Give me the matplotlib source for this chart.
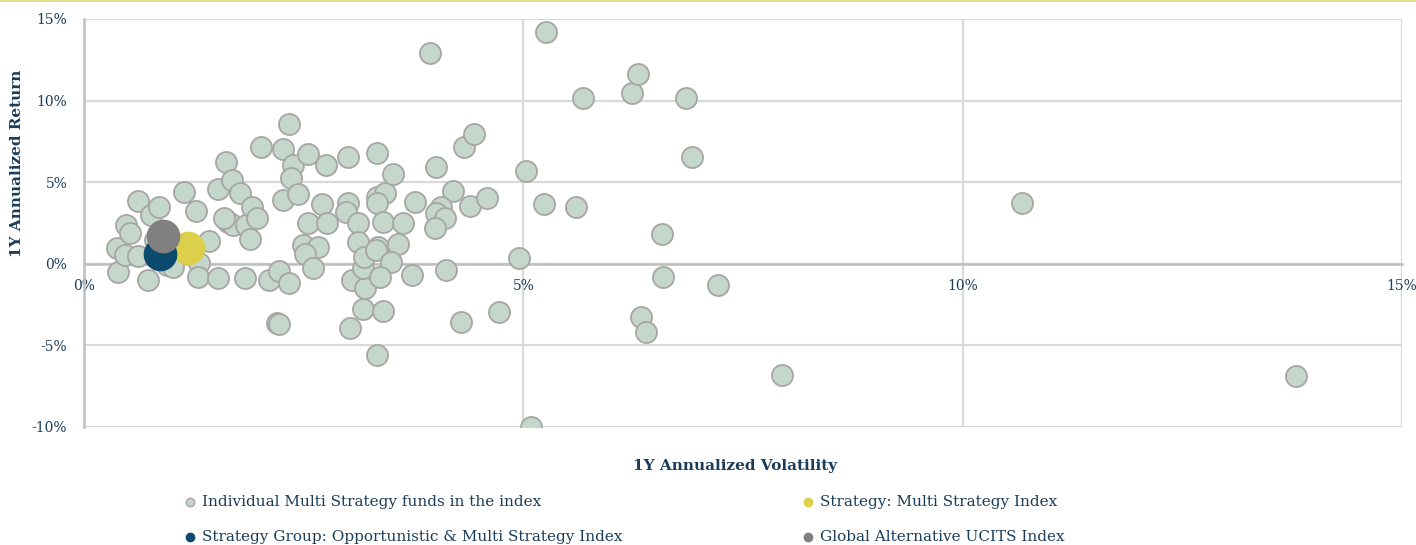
import matplotlib.pyplot as plt
from matplotlib.lines import Line2D
from matplotlib.ticker import FuncFormatter

# 1Y volatility (%) and 1Y return (%) of the individual funds
fund_vol = [0.37, 0.39, 0.47, 0.48, 0.52, 0.62, 0.73, 0.76, 0.85, 0.62,
            0.95, 1.01, 0.81, 0.93, 1.14, 1.28, 1.42, 1.31, 1.30, 1.52,
            1.52, 1.62, 1.68, 1.78, 1.64, 1.70, 1.59, 1.84, 1.91, 1.97,
            1.89, 1.83, 2.01, 2.11, 2.22, 2.33, 2.20, 2.22, 2.26, 2.33,
            2.38, 2.36, 2.26, 2.44, 2.55, 2.75, 2.49, 2.66, 2.52, 2.61,
            2.55, 2.71, 2.77, 3.00, 3.00, 2.98, 3.12, 3.12, 3.05, 3.20,
            3.18, 3.19, 3.33, 3.33, 3.43, 3.34, 3.52, 3.40, 3.63, 3.35,
            3.32, 3.57, 3.49, 3.37, 3.17, 3.40, 3.03, 3.33, 3.73, 3.77,
            4.01, 3.94, 4.20, 4.06, 4.01, 4.11, 4.00, 4.12, 4.32, 4.44,
            4.39, 4.59, 4.29, 4.72, 4.95, 5.03, 5.23, 5.26, 5.09, 5.60,
            5.68, 6.24, 6.30, 6.85, 6.92, 6.58, 6.59, 6.34, 6.40, 7.21,
            7.94, 10.68, 13.79]
fund_ret = [0.98, -0.49, 0.55, 2.39, 1.90, 3.85, -0.98, 3.00, 3.49, 0.49,
            -0.06, -0.18, 1.47, 1.96, 4.40, 3.24, 1.41, 0.06, -0.80, -0.86,
            4.59, 6.24, 5.14, 4.34, 2.57, 2.39, 2.81, 2.39, 3.49, 2.81,
            1.53, -0.86, 7.16, -0.98, -0.43, -1.16, -3.61, -3.67, 7.03, 8.56,
            6.06, 5.26, 3.91, 4.28, 6.73, 6.06, 1.16, 1.04, 0.61, -0.24,
            2.51, 3.67, 2.51, 6.54, 3.73, 3.18, 2.51, 1.35, -0.98, -1.47,
            -0.24, 0.43, 6.79, 4.10, 4.34, 3.73, 5.50, 2.57, 2.51, 1.04,
            0.86, 1.22, 0.12, -0.80, -2.75, -2.87, -3.91, -5.57, -0.67, 3.79,
            5.93, 12.91, 4.46, 3.49, 3.12, 2.81, 2.20, -0.37, 7.16, 7.95,
            3.55, 4.04, -3.55, -2.94, 0.37, 5.69, 3.67, 14.19, -9.97, 3.49,
            10.15, 10.46, 11.62, 10.15, 6.54, 1.83, -0.80, -3.24, -4.16, -1.28,
            -6.79, 3.73, -6.85]

# index points: (volatility, return)
multi_idx = (1.18, 0.98)
group_idx = (0.86, 0.61)
global_idx = (0.90, 1.71)

navy = '#1c3d5a'
plt.rcParams['font.family'] = ['DejaVu Serif', 'DejaVu Sans']

fig = plt.figure(figsize=(14.16, 5.45), dpi=100)
ax = fig.add_axes([84 / 1416, 1 - 427 / 545, 1318 / 1416, 408 / 545])

ax.scatter(fund_vol, fund_ret, s=230, color='#c5d6ca', edgecolors='#a6a6a6',
           linewidths=1.3, zorder=3)
ax.scatter(*multi_idx, s=540, color='#dccf4a', zorder=4)
ax.scatter(*group_idx, s=540, color='#0c4a6e', zorder=5)
ax.scatter(*global_idx, s=540, color='#808080', zorder=6)

ax.set_xlim(0, 15)
ax.set_ylim(-10, 15)
ax.set_xticks([0, 5, 10, 15])
ax.set_yticks([-10, -5, 0, 5, 10, 15])
ax.xaxis.set_major_formatter(FuncFormatter(lambda v, p: f'{v:.0f}%'))
ax.yaxis.set_major_formatter(FuncFormatter(lambda v, p: f'{v:.0f}%'))
ax.grid(True, color='#d9d9d9', linewidth=1.6, zorder=0)
ax.set_axisbelow(True)

for s in ['top', 'right']:
    ax.spines[s].set_visible(False)
ax.spines['bottom'].set_position(('data', 0))
ax.spines['bottom'].set_color('#bfbfbf')
ax.spines['left'].set_color('#bfbfbf')
ax.spines['bottom'].set_linewidth(1.8)
ax.spines['left'].set_linewidth(1.8)
ax.tick_params(length=0, labelsize=10, labelcolor=navy)
ax.tick_params(axis='x', pad=11)
ax.tick_params(axis='y', pad=12)

fig.text(735 / 1416, 1 - 466 / 545, '1Y Annualized Volatility', ha='center', va='center',
         fontsize=11, fontweight='bold', color=navy)
fig.text(17 / 1416, 1 - 163 / 545, '1Y Annualized Return', ha='center', va='center',
         rotation=90, fontsize=11, fontweight='bold', color=navy)

# legend, laid out by hand in two columns
legend_items = [
    (190, 502, '#c5d6ca', '#a6a6a6', 'Individual Multi Strategy funds in the index'),
    (808, 502, '#dccf4a', '#dccf4a', 'Strategy: Multi Strategy Index'),
    (190, 537, '#0c4a6e', '#0c4a6e', 'Strategy Group: Opportunistic & Multi Strategy Index'),
    (808, 537, '#808080', '#808080', 'Global Alternative UCITS Index'),
]
for px, py, fc, ec, label in legend_items:
    fig.add_artist(Line2D([px / 1416], [1 - py / 545], marker='o', markersize=6,
                          markerfacecolor=fc, markeredgecolor=ec, markeredgewidth=1,
                          transform=fig.transFigure))
    fig.text((px + 12) / 1416, 1 - py / 545, label, ha='left', va='center',
             fontsize=11, color=navy)

# thin yellow rule along the top edge
fig.add_artist(Line2D([0, 1], [0.999, 0.999], color='#e6dc8c', linewidth=1.5,
                      transform=fig.transFigure))

fig.savefig('out.png', dpi=100)
